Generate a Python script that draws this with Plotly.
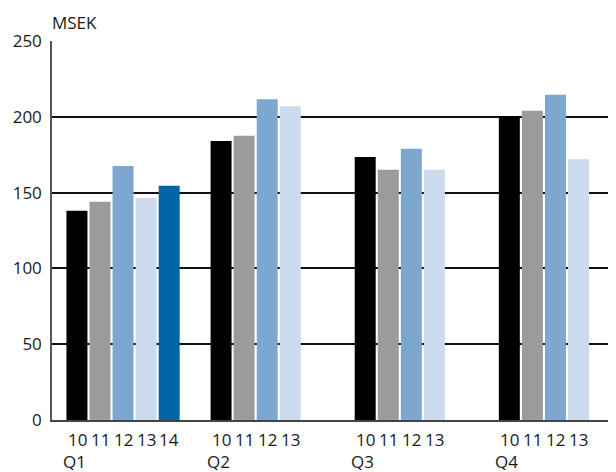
import plotly.graph_objects as go

quarters = ["Q1", "Q2", "Q3", "Q4"]
years = ["10", "11", "12", "13", "14"]
v10 = [138, 184, 173.5, 200.5]
v11 = [144, 187.5, 165, 204]
v12 = [167.5, 211.5, 179, 214.5]
v13 = [146.5, 207, 165, 172]
v14 = [154.5, None, None, None]
series = [v10, v11, v12, v13, v14]
colors = ["#000000", "#9b9b9b", "#7ea7d0", "#cdd9ec", "#0065a4"]
ytickvals = [0, 50, 100, 150, 200, 250]

fig = go.Figure()
for yr, vals, c in zip(years, series, colors):
    fig.add_trace(go.Bar(x=quarters, y=vals, name=yr, marker=dict(color=c, line=dict(width=0))))

font = dict(family="Open Sans, Noto Sans, sans-serif", size=17, color="#1a1a1a")
annotations = []
slot = 23
for qi, q in enumerate(quarters):
    n = 5 if qi == 0 else 4
    for j in range(n):
        annotations.append(dict(x=q, xref="x", y=0, yref="paper", text=years[j], showarrow=False,
                                xanchor="center", yanchor="middle", xshift=(j - 2) * slot, yshift=-19.5,
                                font=font))
    annotations.append(dict(x=q, xref="x", y=0, yref="paper", text=q, showarrow=False,
                            xanchor="left", yanchor="middle", xshift=-2.5 * slot - 4, yshift=-41.5,
                            height=17, borderpad=0, font=font))
annotations.append(dict(x=0, xref="paper", y=1, yref="paper", text="MSEK", showarrow=False,
                        xanchor="left", yanchor="middle", xshift=-2, yshift=19, font=font))

fig.update_layout(
    width=608, height=464,
    margin=dict(l=44, r=0, t=33, b=52),
    paper_bgcolor="white", plot_bgcolor="white",
    barmode="group", bargap=0.2, bargroupgap=0.09,
    showlegend=False,
    font=font,
    annotations=annotations,
    xaxis=dict(type="category", range=[-0.493, 3.42], showticklabels=False, showgrid=False,
               showline=True, linecolor="#444444", linewidth=1.5, ticks="", zeroline=False),
    yaxis=dict(range=[0, 250], tickvals=ytickvals, showgrid=True, gridcolor="#111111", gridwidth=1.5,
               showline=True, linecolor="#555555", linewidth=1.5, ticks="", zeroline=False,
               ticklabelstandoff=5, tickfont=font),
)
fig.write_html("out.html")
